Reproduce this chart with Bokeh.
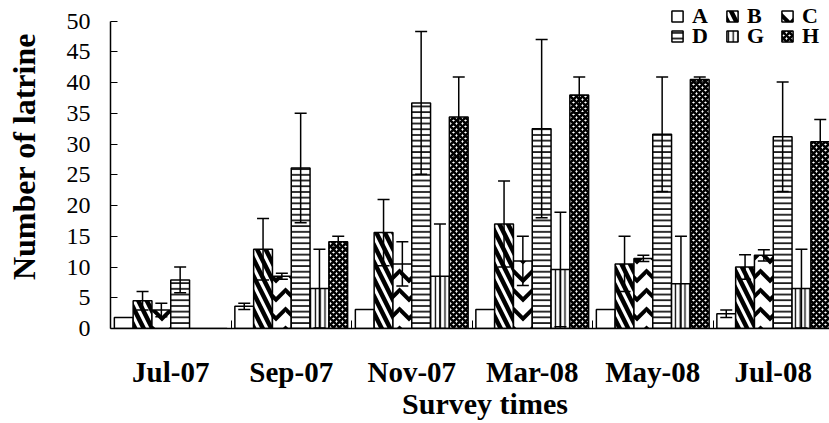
from bokeh.plotting import figure
from bokeh.models import (ColumnDataSource, FixedTicker, Whisker, TeeHead,
                          Legend, LegendItem, Range1d)
from bokeh.embed import file_html
from bokeh.resources import INLINE

# Survey rounds and latrine groups
surveys = ["Jul-07", "Sep-07", "Nov-07", "Mar-08", "May-08", "Jul-08"]
groups = ["A", "B", "C", "D", "G", "H"]

# Mean number of latrines and the error (+/-) per survey
mean_A = [1.8, 3.6, 3.1, 3.1, 3.1, 2.4]
err_A = [0.0, 0.5, 0.0, 0.0, 0.0, 0.6]
mean_B = [4.5, 12.9, 15.6, 17.0, 10.5, 10.0]
err_B = [1.5, 5.0, 5.4, 7.0, 4.5, 2.0]
mean_C = [3.0, 8.5, 10.5, 11.0, 11.4, 11.9]
err_C = [1.1, 0.5, 3.6, 4.0, 0.5, 0.9]
mean_D = [7.9, 26.1, 36.7, 32.5, 31.6, 31.2]
err_D = [2.1, 8.9, 11.6, 14.5, 9.3, 8.9]
mean_G = [0.0, 6.5, 8.5, 9.6, 7.3, 6.5]
err_G = [0.0, 6.4, 8.5, 9.3, 7.7, 6.4]
mean_H = [0.0, 14.1, 34.4, 38.0, 40.5, 30.4]
err_H = [0.0, 0.9, 6.5, 2.9, 0.4, 3.6]

y_ticks = [0, 5, 10, 15, 20, 25, 30, 35, 40, 45, 50]

means = [mean_A, mean_B, mean_C, mean_D, mean_G, mean_H]
errs = [err_A, err_B, err_C, err_D, err_G, err_H]

# fill / hatch style of each group
styles = {
    "A": dict(fill_color="white"),
    "B": dict(fill_color="white", hatch_pattern="\\", hatch_color="black",
              hatch_scale=17, hatch_weight=4.5),
    "C": dict(fill_color="white", hatch_pattern="v", hatch_color="black",
              hatch_scale=19, hatch_weight=4),
    "D": dict(fill_color="white", hatch_pattern="-", hatch_color="black",
              hatch_scale=5.7, hatch_weight=1.6),
    "G": dict(fill_color="white", hatch_pattern="|", hatch_color="black",
              hatch_scale=4.8, hatch_weight=1.3),
    "H": dict(fill_color="white", hatch_pattern="x", hatch_color="black",
              hatch_scale=6, hatch_weight=2.6),
}

BAR_W = 0.156
SERIF = "Liberation Serif"
NB = "\u00a0"

# the frame reaches the top edge so the legend has room; the y axis line
# itself stops at 50
p = figure(frame_width=719, frame_height=328,
           x_range=Range1d(0, 719 / 120.5), y_range=Range1d(0, 53.36),
           output_backend="svg", toolbar_location=None,
           min_border_left=110, min_border_right=0,
           min_border_top=0, min_border_bottom=95)
p.outline_line_color = None
p.xgrid.visible = False
p.ygrid.visible = False
p.background_fill_color = "white"
p.border_fill_color = "white"

renderers = {}
for j, g in enumerate(groups):
    xs = [i + 0.5 + (j - 2.5) * BAR_W for i in range(len(surveys))]
    src = ColumnDataSource(dict(x=xs, top=means[j]))
    r = p.vbar(x="x", top="top", width=BAR_W, bottom=0, source=src,
               line_color="black", line_width=1.5, **styles[g])
    renderers[g] = r

    # error bars, only where an error exists
    wx, wu, wl = [], [], []
    for x, m, e in zip(xs, means[j], errs[j]):
        if e > 0:
            wx.append(x)
            wu.append(m + e)
            wl.append(m - e)
    wsrc = ColumnDataSource(dict(base=wx, upper=wu, lower=wl))
    w = Whisker(base="base", upper="upper", lower="lower", source=wsrc,
                line_color="black", line_width=1.5, level="annotation",
                upper_head=TeeHead(size=12, line_color="black", line_width=1.5),
                lower_head=TeeHead(size=12, line_color="black", line_width=1.5))
    p.add_layout(w)

# x axis: labels at survey centres, small ticks between surveys
centers = [i + 0.5 for i in range(len(surveys))]
xa = p.xaxis[0]
xa.ticker = FixedTicker(ticks=centers,
                        minor_ticks=[i for i in range(1, len(surveys))])
xa.major_label_overrides = {c: s for c, s in zip(centers, surveys)}
xa.major_tick_line_color = None
xa.minor_tick_in = 8
xa.minor_tick_out = 0
xa.minor_tick_line_color = "black"
xa.minor_tick_line_width = 1
xa.axis_line_color = "black"
xa.axis_line_width = 1.5
xa.major_label_text_font = SERIF
xa.major_label_text_font_style = "bold"
xa.major_label_text_font_size = "29px"
xa.major_label_text_color = "black"
xa.major_label_standoff = 21
xa.axis_label = NB * 4 + "Survey times"
xa.axis_label_text_font = SERIF
xa.axis_label_text_font_style = "bold"
xa.axis_label_text_font_size = "30px"
xa.axis_label_text_color = "black"
xa.axis_label_standoff = -4

ya = p.yaxis[0]
ya.ticker = FixedTicker(ticks=y_ticks)
ya.bounds = (0, 50)
ya.major_tick_in = 7
ya.major_tick_out = 0
ya.minor_tick_line_color = None
ya.major_tick_line_color = "black"
ya.axis_line_color = "black"
ya.axis_line_width = 1.5
ya.major_label_text_font = SERIF
ya.major_label_text_font_size = "24px"
ya.major_label_text_color = "black"
ya.major_label_standoff = 20
ya.axis_label = NB * 2 + "Number of latrine"
ya.axis_label_text_font = SERIF
ya.axis_label_text_font_style = "bold"
ya.axis_label_text_font_size = "32px"
ya.axis_label_text_color = "black"
ya.axis_label_standoff = 22

# legend in two rows of three
def make_legend(names, loc):
    lg = Legend(items=[LegendItem(label=n, renderers=[renderers[n]]) for n in names],
                location=loc, orientation="horizontal",
                glyph_width=14, glyph_height=14, label_standoff=8,
                spacing=13, padding=0, margin=0,
                border_line_color=None, background_fill_alpha=0,
                label_text_font=SERIF, label_text_font_style="bold",
                label_text_font_size="22px", label_text_color="black")
    p.add_layout(lg, "center")

make_legend(["A", "B", "C"], (560, 299))
make_legend(["D", "G", "H"], (560, 279))

open("out.html", "w").write(file_html(p, INLINE))
